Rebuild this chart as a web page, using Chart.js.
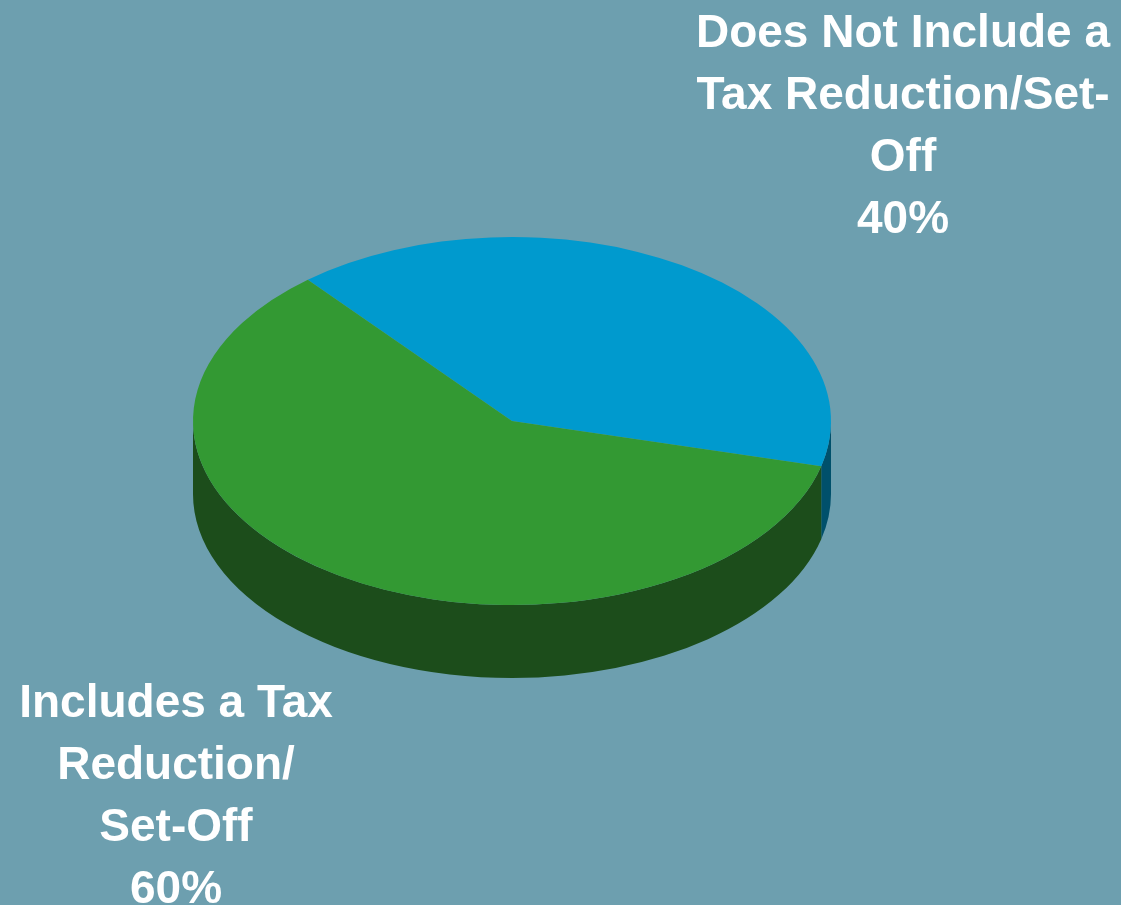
<!DOCTYPE html>
<html>
<head>
<meta charset="utf-8">
<script src="https://cdn.jsdelivr.net/npm/chart.js@4"></script>
<style>
  html, body { margin: 0; padding: 0; background: #6D9FAF; }
  #wrap { width: 1121px; height: 905px; position: relative; }
</style>
</head>
<body>
<div id="wrap"><canvas id="pie"></canvas></div>
<script>
// categories and shares
var categories = ['Does Not Include a Tax Reduction/Set-Off', 'Includes a Tax Reduction/Set-Off'];
var shares = [40, 60];
var topColours = ['#009ACE', '#339933'];
var sideColours = ['#00506B', '#1C4D1B'];

// label lines, one block per slice
var labelLines = [
    ['Does Not Include a', 'Tax Reduction/Set-', 'Off', '40%'],
    ['Includes a Tax', 'Reduction/', 'Set-Off', '60%']
];
var labelAnchors = [
    { x: 903, y: 47 },
    { x: 176, y: 717 }
];

var centreY = 421;      // middle of the top face
var squash = 184 / 319; // vertical/horizontal radius
var depth = 73;         // wall height in px

var tilt3d = {
    id: 'tilt3d',
    beforeDatasetsDraw: function (chart) {
        var ctx = chart.ctx;
        var arcs = chart.getDatasetMeta(0).data;
        var cx = arcs[0].x, cy = arcs[0].y, r = arcs[0].outerRadius;
        var drop = depth / squash;
        ctx.save();
        ctx.translate(0, centreY);
        ctx.scale(1, squash);
        ctx.translate(0, -cy);
        // side wall: only the front half (0..PI) can be seen
        arcs.forEach(function (arc, i) {
            [0, 2 * Math.PI, -2 * Math.PI].forEach(function (shift) {
                var a = Math.max(arc.startAngle, shift);
                var b = Math.min(arc.endAngle, shift + Math.PI);
                if (b <= a) return;
                ctx.beginPath();
                ctx.arc(cx, cy, r, a, b);
                ctx.arc(cx, cy + drop, r, b, a, true);
                ctx.closePath();
                ctx.fillStyle = sideColours[i];
                ctx.fill();
            });
        });
    },
    afterDatasetsDraw: function (chart) {
        chart.ctx.restore();
    },
    afterDraw: function (chart) {
        var ctx = chart.ctx;
        ctx.save();
        ctx.fillStyle = '#FFFFFF';
        ctx.font = 'bold 46px "Liberation Sans", Arial, sans-serif';
        ctx.textAlign = 'center';
        ctx.textBaseline = 'alphabetic';
        labelLines.forEach(function (lines, i) {
            lines.forEach(function (line, j) {
                ctx.fillText(line, labelAnchors[i].x, labelAnchors[i].y + j * 62);
            });
        });
        ctx.restore();
    }
};

new Chart(document.getElementById('pie'), {
    type: 'pie',
    data: {
        labels: categories,
        datasets: [{
            data: shares,
            backgroundColor: topColours,
            borderWidth: 0,
            hoverOffset: 0
        }]
    },
    options: {
        responsive: true,
        maintainAspectRatio: false,
        animation: false,
        rotation: -39.8,
        layout: {
            padding: { left: 193, right: 290, top: 100, bottom: 100 }
        },
        plugins: {
            legend: { display: false },
            tooltip: { enabled: false }
        }
    },
    plugins: [tilt3d]
});
</script>
</body>
</html>
